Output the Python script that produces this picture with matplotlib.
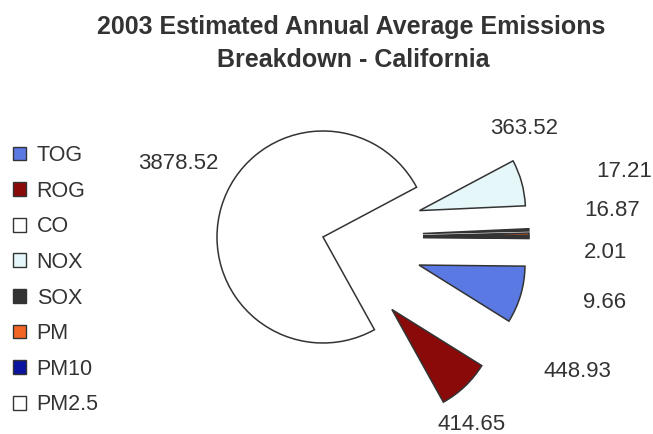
import matplotlib.pyplot as plt
from matplotlib.patches import Patch

plt.rcParams["font.family"] = ["Liberation Sans", "DejaVu Sans"]

pollutants = ["TOG", "ROG", "CO", "NOX", "SOX", "PM", "PM10", "PM2.5"]
emissions = [448.93, 414.65, 3878.52, 363.52, 17.21, 16.87, 2.01, 9.66]
colors = ["#5b79e3", "#8a0a0a", "#ffffff", "#e6f7fa", "#333333", "#f26522", "#0a14a0", "#ffffff"]

# pull-out distance of each wedge, in pixels (pie explode is in data units)
explode = [100, 100, 0, 100, 100, 100, 100, 100]

# baseline position of each value label (pixels from the lower-left corner)
label_pos = [(577, 57), (472, 4), (178, 265), (524, 300), (624, 257), (612, 218), (606, 176), (605, 126)]

fig = plt.figure(figsize=(6.53, 4.34), dpi=100)
ax = fig.add_axes([0, 0, 1, 1])

ax.pie(emissions, colors=colors, explode=explode, startangle=-0.6, counterclock=False,
       center=(323, 197), radius=106,
       wedgeprops=dict(edgecolor="#333333", linewidth=1.1))

# pie() resets the limits, so set the pixel frame afterwards
ax.set_xlim(0, 653)
ax.set_ylim(0, 434)
ax.set_aspect("equal")
ax.axis("off")

for (x, y), v in zip(label_pos, emissions):
    ax.text(x, y, f"{v:.2f}", fontsize=16, color="#333333", ha="center", va="baseline")

ax.text(351, 400, "2003 Estimated Annual Average Emissions", ha="center", va="baseline",
        fontsize=18, fontweight="bold", color="#333333")
ax.text(353, 367, "Breakdown - California", ha="center", va="baseline",
        fontsize=18, fontweight="bold", color="#333333")

handles = [Patch(facecolor=c, edgecolor="#333333", linewidth=1.0) for c in colors]
fig.legend(handles, pollutants, loc="upper left", bbox_to_anchor=(13 / 653, 1 - 145 / 434),
           frameon=False, fontsize=15.5, borderpad=0, borderaxespad=0,
           handlelength=0.6, handleheight=0.6, handletextpad=0.5, labelspacing=0.68,
           labelcolor="#333333")

fig.savefig("out.png", dpi=100)
